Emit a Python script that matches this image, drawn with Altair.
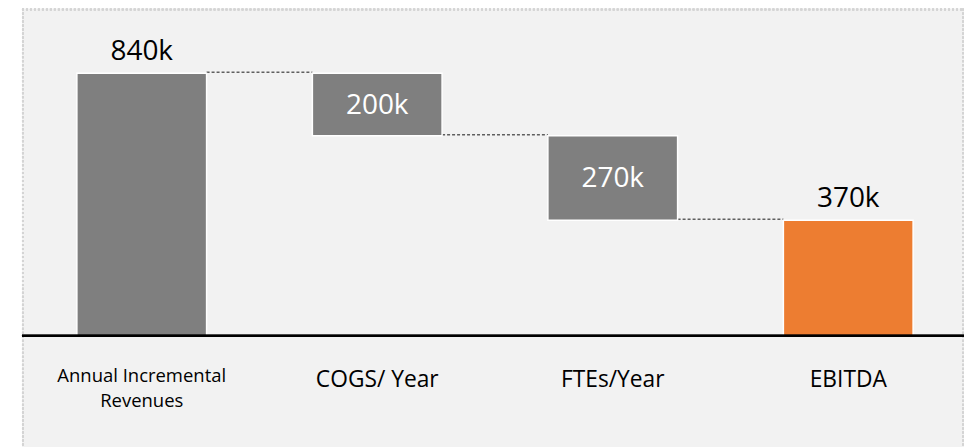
import altair as alt
import pandas as pd

categories = ["Annual Incremental Revenues", "COGS/ Year", "FTEs/Year", "EBITDA"]
axis_labels = ["Annual Incremental\nRevenues", "COGS/ Year", "FTEs/Year", "EBITDA"]
amounts = [840, -200, -270, 370]
kinds = ["total", "step", "step", "total"]
value_labels = ["840k", "200k", "270k", "370k"]
bar_colors = ["#7f7f7f", "#7f7f7f", "#7f7f7f", "#ed7d31"]

rows = []
running = 0
for i, (cat, amt, kind, vlab, alab, col) in enumerate(
    zip(categories, amounts, kinds, value_labels, axis_labels, bar_colors)
):
    if kind == "total":
        start, end = 0, amt
        running = amt
    else:
        start, end = running, running + amt
        running = end
    rows.append(
        dict(
            idx=i, cat=cat, axis_label=alab, kind=kind, start=start, end=end,
            label=vlab, fill=col, top=max(start, end), mid=(start + end) / 2,
            first=(i == 0), zero=0,
        )
    )
df = pd.DataFrame(rows)

conn = pd.DataFrame(
    [dict(idx=r["idx"], nxt=r["idx"] + 1, level=r["end"]) for r in rows[:-1]]
)

H = 440
xs = alt.Scale(domain=[-0.5085, 3.4915], nice=False, zero=False, padding=0)
ys = alt.Scale(domain=[-(H - 328) / 0.3131, 328 / 0.3131], nice=False, zero=False, padding=0)
FONT = "Open Sans"

base = alt.Chart(df)
X = alt.X("idx:Q", scale=xs, axis=None)

bars = base.mark_bar(width=130, stroke="white", strokeWidth=1.5).encode(
    x=X,
    y=alt.Y("start:Q", scale=ys, axis=None),
    y2="end:Q",
    color=alt.Color("fill:N", scale=None, legend=None),
)

connectors = alt.Chart(conn).mark_rule(
    color="#5f5f5f", strokeWidth=1.5, strokeDash=[3, 2], xOffset=65, x2Offset=-65,
    yOffset=-1,
).encode(
    x=X,
    x2="nxt:Q",
    y=alt.Y("level:Q", scale=ys, axis=None),
)

top_labels = base.transform_filter("datum.kind == 'total'").mark_text(
    font=FONT, fontSize=28, color="black", baseline="alphabetic", dy=-13
).encode(
    x=X,
    y=alt.Y("top:Q", scale=ys, axis=None),
    text="label:N",
)

in_labels = base.transform_filter("datum.kind == 'step'").mark_text(
    font=FONT, fontSize=28, color="white", baseline="alphabetic", dy=9.5
).encode(
    x=X,
    y=alt.Y("mid:Q", scale=ys, axis=None),
    text="label:N",
)

baseline = base.mark_rule(color="black", strokeWidth=2).encode(
    x=alt.value(0), x2=alt.value(944),
    y=alt.Y("zero:Q", scale=ys, axis=None),
)

cat_first = base.transform_filter("datum.first").mark_text(
    font=FONT, fontSize=18.5, color="black", baseline="alphabetic",
    dy=46, lineBreak="\n", lineHeight=25,
).encode(
    x=X,
    y=alt.Y("zero:Q", scale=ys, axis=None),
    text="axis_label:N",
)

cat_rest = base.transform_filter("!datum.first").mark_text(
    font=FONT, fontSize=22.8, color="black", baseline="alphabetic", dy=51,
).encode(
    x=X,
    y=alt.Y("zero:Q", scale=ys, axis=None),
    text="axis_label:N",
)

border_style = dict(color="#d4d4d4", strokeWidth=2, strokeDash=[2, 2])
border_left = base.mark_rule(**border_style).encode(
    x=alt.value(1), y=alt.value(0), y2=alt.value(H)
)
border_right = base.mark_rule(**border_style).encode(
    x=alt.value(943), y=alt.value(0), y2=alt.value(H)
)
border_top = base.mark_rule(**border_style).encode(
    x=alt.value(0), x2=alt.value(944), y=alt.value(1)
)

chart = alt.layer(
    border_left, border_right, border_top,
    connectors, bars, baseline, top_labels, in_labels, cat_first, cat_rest,
).properties(
    width=944,
    height=H,
    autosize=alt.AutoSizeParams(type="none"),
    padding={"left": 14, "top": 0, "right": 0, "bottom": 0},
    background="white",
).configure_view(fill="#f2f2f2", stroke=None)

chart.save("out.html", embed_options={"renderer": "svg", "actions": False})
